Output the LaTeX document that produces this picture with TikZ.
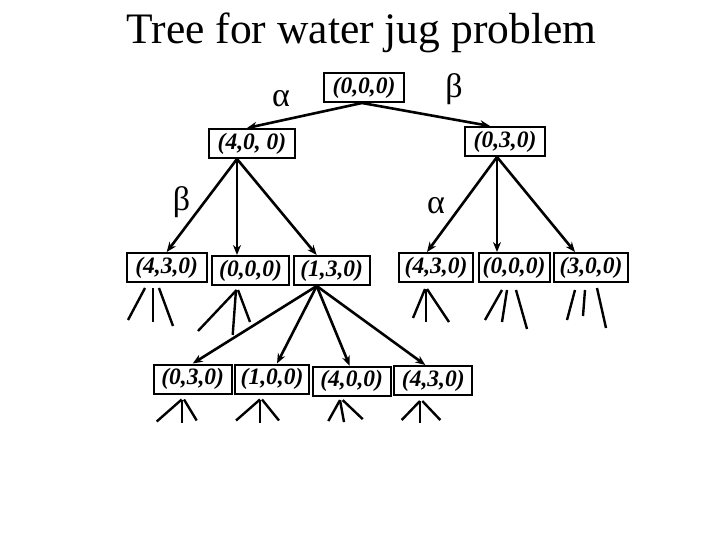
\documentclass[tikz,border=0pt]{standalone}
\usepackage{fontspec}
\setmainfont{Liberation Serif}
\usepackage{tikz}
\usetikzlibrary{arrows.meta}

\begin{document}
\begin{tikzpicture}[x=1pt, y=-1pt,
            state/.style={draw, line width=2pt, minimum width=78pt, minimum height=29pt, inner sep=0pt,
                          font=\fontsize{23.5}{28}\selectfont\bfseries\itshape},
            move/.style={-{Stealth[length=10pt, width=8pt]}, line width=2.6pt},
            stub/.style={line width=2.4pt},
            rule/.style={font=\fontsize{34}{38}\selectfont},]

        \useasboundingbox (0,0) rectangle (720,540);

        % Titulo
        \node[font=\fontsize{43.5}{50}\selectfont, anchor=base] (titulo) at (361.5,44) {Tree for water jug problem};

        % Nodes raiz e nivel 1
        \node[state, minimum width=80pt]  (raiz)  at (364,87.5)   {(0,0,0)};
        \node[state, minimum width=86pt]  (s400)  at (252,143.5)  {(4,0, 0)};
        \node[state, minimum width=80pt]  (s030)  at (505,141.5)  {(0,3,0)};

        % Nodes nivel 2
        \node[state, minimum width=80pt]  (a430)  at (166.7,267.5) {(4,3,0)};
        \node[state, minimum width=77pt]  (a000)  at (250.5,270.5) {(0,0,0)};
        \node[state, minimum width=76pt]  (a130)  at (331.7,270.5) {(1,3,0)};
        \node[state, minimum width=74pt]  (b430)  at (436,267.5)   {(4,3,0)};
        \node[state, minimum width=71pt]  (b000)  at (514,267.5)   {(0,0,0)};
        \node[state, minimum width=74pt]  (b300)  at (591,267.5)   {(3,0,0)};

        % Nodes nivel 3
        \node[state]                      (c030)  at (192.7,379)   {(0,3,0)};
        \node[state, minimum width=74pt]  (c100)  at (272,379)     {(1,0,0)};
        \node[state]                      (c400)  at (351.7,381.3) {(4,0,0)};
        \node[state]                      (c430)  at (433.3,380.5) {(4,3,0)};

        % Regras
        \node[rule] (alfa1) at (281,98.5) {α};
        \node[rule] (beta1) at (454,89)   {β};
        \node[rule] (beta2) at (181.5,202) {β};
        \node[rule] (alfa2) at (436,206)  {α};

        % Arestas
        \draw[move] ([xshift=-2pt]raiz.south) -- ([xshift=-5pt]s400.north);
        \draw[move] ([xshift=-2pt]raiz.south) -- ([xshift=-15pt]s030.north);

        \foreach \dest/\dx in {a430/0, a000/-13.5, a130/-15}
            \draw[move] ([xshift=-15pt]s400.south) -- ([xshift=\dx pt]\dest.north);

        \foreach \dest/\dx in {b430/-9, b000/-17, b300/-16}
            \draw[move] ([xshift=-8pt]s030.south) -- ([xshift=\dx pt]\dest.north);

        \foreach \dest/\dx in {c030/0, c100/5, c400/-2, c430/-8}
            \draw[move] ([xshift=-15pt]a130.south) -- ([xshift=\dx pt]\dest.north);

        % Ramos abertos
        \foreach \a/\b/\c/\d in {-21.7/5/-17/32, -14/5/0/34, -7.7/5/14/38}
            \draw[stub] (a430.south) ++(\a,\b) -- ++(\c,\d);
        \foreach \a/\b/\c/\d in {-13.8/4/-38.7/41, -14.5/4/-3.3/45, -12.5/4/12/32}
            \draw[stub] (a000.south) ++(\a,\b) -- ++(\c,\d);
        \foreach \a/\b/\c/\d in {-11/6/-12/29, -10.3/6/0/33, -9/6/22/33}
            \draw[stub] (b430.south) ++(\a,\b) -- ++(\c,\d);
        \foreach \a/\b/\c/\d in {-12/7/-17/30, -7/7/-5/32, 2/7/11/39}
            \draw[stub] (b000.south) ++(\a,\b) -- ++(\c,\d);
        \foreach \a/\b/\c/\d in {-16/7/-8/30, -6/7/-2/26, 6/5/9/40}
            \draw[stub] (b300.south) ++(\a,\b) -- ++(\c,\d);
        \foreach \a/\b/\c/\d in {-11/5/-25/22, -11/5/0/23, -8.7/5/12.7/21}
            \draw[stub] (c030.south) ++(\a,\b) -- ++(\c,\d);
        \foreach \a/\b/\c/\d in {-12/5/-24/21, -12/5/0/23, -10/5/17/21}
            \draw[stub] (c100.south) ++(\a,\b) -- ++(\c,\d);
        \foreach \a/\b/\c/\d in {-11.7/3.3/-11.7/21, -11.7/3.3/4/22, -9/3.3/20/19}
            \draw[stub] (c400.south) ++(\a,\b) -- ++(\c,\d);
        \foreach \a/\b/\c/\d in {-13.3/5/-18.3/19, -13.3/5/0/22, -11/5/18/19}
            \draw[stub] (c430.south) ++(\a,\b) -- ++(\c,\d);
    \end{tikzpicture}
\end{document}
